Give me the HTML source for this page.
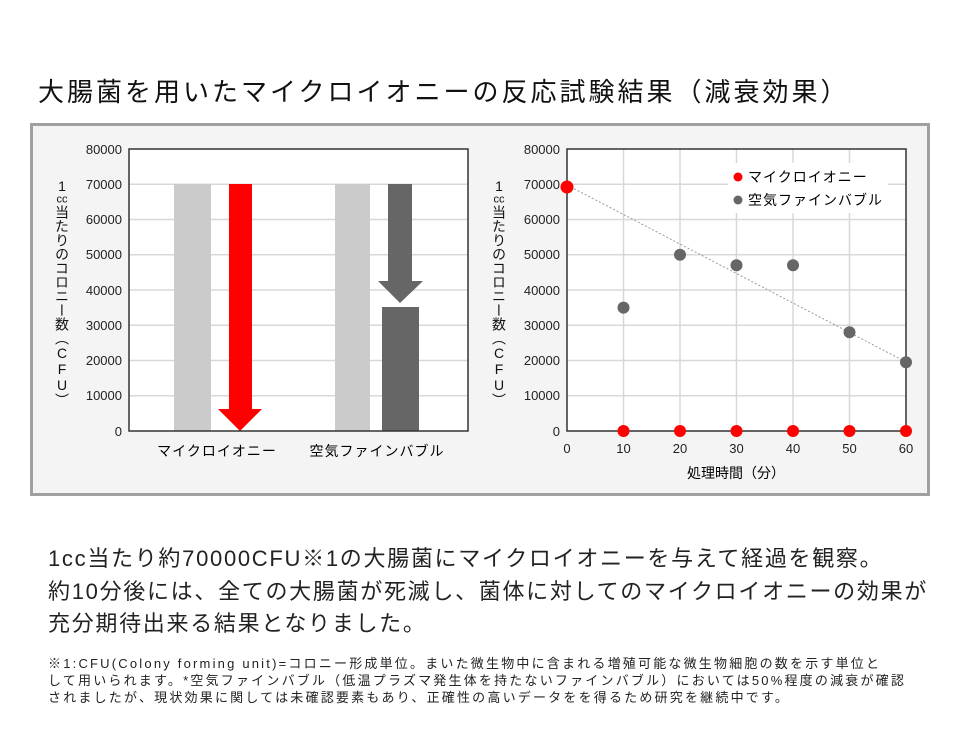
<!DOCTYPE html>
<html><head><meta charset="utf-8"><style>
body{margin:0;width:960px;height:740px;background:#fff;font-family:"Liberation Sans","Noto Sans CJK JP",sans-serif;position:relative;overflow:hidden;color:#111}
.t{position:absolute;white-space:nowrap}
.yl{position:absolute;writing-mode:vertical-rl;text-orientation:upright;font-size:14px;letter-spacing:0px;line-height:16px}
.cc{text-combine-upright:all;font-size:11px}
</style></head><body>
<div class="t" style="left:38px;top:72px;font-size:26px;letter-spacing:3px">大腸菌を用いたマイクロイオニーの反応試験結果（減衰効果）</div>
<div style="position:absolute;left:30px;top:123px;width:894px;height:367px;border:3px solid #a0a0a0;background:#f4f4f4"></div>
<svg style="position:absolute;left:0;top:0" width="960" height="740" font-family="Liberation Sans, Noto Sans CJK JP, sans-serif">
<rect x="129" y="149" width="339" height="282" fill="#fff"/>
<g stroke="#d8d8d8" stroke-width="1.5">
<line x1="129" y1="184.25" x2="468" y2="184.25"/><line x1="129" y1="219.5" x2="468" y2="219.5"/><line x1="129" y1="254.75" x2="468" y2="254.75"/><line x1="129" y1="290" x2="468" y2="290"/><line x1="129" y1="325.25" x2="468" y2="325.25"/><line x1="129" y1="360.5" x2="468" y2="360.5"/><line x1="129" y1="395.75" x2="468" y2="395.75"/>
</g>
<rect x="174" y="184" width="37" height="247" fill="#cbcbcb"/>
<rect x="335" y="184" width="35" height="247" fill="#cbcbcb"/>
<polygon points="229,184 252,184 252,409 262,409 240,431 218,409 229,409" fill="#f00"/>
<polygon points="388,184 412,184 412,281 423,281 400,303 378,281 388,281" fill="#666"/>
<rect x="382" y="307" width="37" height="124" fill="#666"/>
<rect x="129" y="149" width="339" height="282" fill="none" stroke="#333" stroke-width="1.5"/>
<g font-size="13" text-anchor="end" fill="#222">
<text x="122" y="154">80000</text><text x="122" y="189">70000</text><text x="122" y="224">60000</text><text x="122" y="259">50000</text><text x="122" y="295">40000</text><text x="122" y="330">30000</text><text x="122" y="365">20000</text><text x="122" y="400">10000</text><text x="122" y="436">0</text>
</g>
<text x="217" y="456" font-size="14" text-anchor="middle" letter-spacing="1">マイクロイオニー</text>
<text x="377" y="456" font-size="14" text-anchor="middle" letter-spacing="1">空気ファインバブル</text>
<rect x="567" y="149" width="339" height="282" fill="#fff"/>
<g stroke="#d8d8d8" stroke-width="1.5">
<line x1="567" y1="184.25" x2="906" y2="184.25"/><line x1="567" y1="219.5" x2="906" y2="219.5"/><line x1="567" y1="254.75" x2="906" y2="254.75"/><line x1="567" y1="290" x2="906" y2="290"/><line x1="567" y1="325.25" x2="906" y2="325.25"/><line x1="567" y1="360.5" x2="906" y2="360.5"/><line x1="567" y1="395.75" x2="906" y2="395.75"/>
<line x1="623.5" y1="149" x2="623.5" y2="431"/><line x1="680" y1="149" x2="680" y2="431"/><line x1="736.5" y1="149" x2="736.5" y2="431"/><line x1="793" y1="149" x2="793" y2="431"/><line x1="849.5" y1="149" x2="849.5" y2="431"/>
</g>
<rect x="728" y="163" width="160" height="50" fill="#fff"/>
<line x1="567" y1="185" x2="906" y2="362" stroke="#999" stroke-width="1" stroke-dasharray="2,2"/>
<rect x="567" y="149" width="339" height="282" fill="none" stroke="#333" stroke-width="1.5"/>
<g fill="#666">
<circle cx="623.5" cy="307.6" r="6"/><circle cx="680" cy="254.75" r="6"/><circle cx="736.5" cy="265.3" r="6"/><circle cx="793" cy="265.3" r="6"/><circle cx="849.5" cy="332.3" r="6"/><circle cx="906" cy="362.3" r="6"/>
</g>
<g fill="#f00">
<circle cx="567" cy="187" r="6.5"/><circle cx="623.5" cy="431" r="6"/><circle cx="680" cy="431" r="6"/><circle cx="736.5" cy="431" r="6"/><circle cx="793" cy="431" r="6"/><circle cx="849.5" cy="431" r="6"/><circle cx="906" cy="431" r="6"/>
</g>
<circle cx="738" cy="177" r="4.5" fill="#f00"/><circle cx="738" cy="200" r="4.5" fill="#666"/>
<text x="748" y="182" font-size="14" letter-spacing="1">マイクロイオニー</text>
<text x="748" y="205" font-size="14" letter-spacing="1">空気ファインバブル</text>
<g font-size="13" text-anchor="end" fill="#222">
<text x="560" y="154">80000</text><text x="560" y="189">70000</text><text x="560" y="224">60000</text><text x="560" y="259">50000</text><text x="560" y="295">40000</text><text x="560" y="330">30000</text><text x="560" y="365">20000</text><text x="560" y="400">10000</text><text x="560" y="436">0</text>
</g>
<g font-size="13" text-anchor="middle" fill="#222">
<text x="567" y="453">0</text><text x="623.5" y="453">10</text><text x="680" y="453">20</text><text x="736.5" y="453">30</text><text x="793" y="453">40</text><text x="849.5" y="453">50</text><text x="906" y="453">60</text>
</g>
<text x="736" y="478" font-size="14" text-anchor="middle">処理時間（分）</text>
</svg>
<div class="yl" style="left:54px;top:178px">1<span class="cc">cc</span>当たりのコロニー数（CFU）</div>
<div class="yl" style="left:491px;top:178px">1<span class="cc">cc</span>当たりのコロニー数（CFU）</div>
<div class="t" style="left:48px;top:543px;font-size:22px;letter-spacing:1.7px;line-height:32.5px;color:#222">1cc当たり約70000CFU※1の大腸菌にマイクロイオニーを与えて経過を観察。<br>約10分後には、全ての大腸菌が死滅し、菌体に対してのマイクロイオニーの効果が<br>充分期待出来る結果となりました。</div>
<div class="t" style="left:48px;top:655px;font-size:13px;letter-spacing:2.2px;line-height:17px;color:#222">※1:CFU(Colony forming unit)=コロニー形成単位。まいた微生物中に含まれる増殖可能な微生物細胞の数を示す単位と<br>して用いられます。*空気ファインバブル（低温プラズマ発生体を持たないファインバブル）においては50%程度の減衰が確認<br>されましたが、現状効果に関しては未確認要素もあり、正確性の高いデータをを得るため研究を継続中です。</div>
</body></html>
